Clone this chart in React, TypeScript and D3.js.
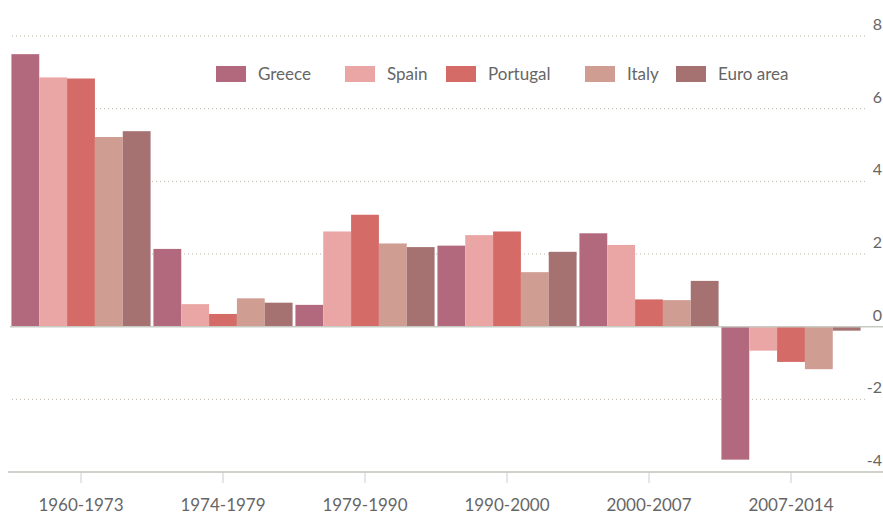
import React from 'react';
import * as d3 from 'd3';

// periods and average growth per country
const periods = ['1960-1973', '1974-1979', '1979-1990', '1990-2000', '2000-2007', '2007-2014'];
const countries = ['Greece', 'Spain', 'Portugal', 'Italy', 'Euro area'];
const greece = [7.5, 2.14, 0.6, 2.23, 2.57, -3.66];
const spain = [6.86, 0.62, 2.62, 2.52, 2.25, -0.66];
const portugal = [6.83, 0.35, 3.08, 2.62, 0.75, -0.97];
const italy = [5.22, 0.78, 2.29, 1.5, 0.73, -1.17];
const euroArea = [5.38, 0.66, 2.19, 2.06, 1.26, -0.11];
const yTicks = [8, 6, 4, 2, 0, -2, -4];

const COLORS = ['#b2697e', '#e9a6a4', '#d46b67', '#d09d92', '#a57171'];

const W = 883;
const H = 514;

export default function App() {
  const series = [greece, spain, portugal, italy, euroArea];

  const x = d3.scaleBand().domain(periods).range([10, 862]).paddingInner(0.02).paddingOuter(0.01);
  const xi = d3.scaleBand().domain(countries).range([0, x.bandwidth()]);
  const y = d3.scaleLinear().domain([-4, 8]).range([472, 36]);

  // legend layout (x of each swatch)
  const legendX = [216, 345, 446, 585, 676];

  return (
    <svg width={W} height={H} style={{ position: 'absolute', left: 0, top: 0, fontFamily: 'Lato, sans-serif' }}>
      <rect width={W} height={H} fill="#fff" />

      {/* grid */}
      {yTicks.filter(t => t !== 0 && t !== -4).map(t => (
        <line key={t} x1={12} x2={868} y1={y(t)} y2={y(t)} stroke="#bdb5aa" strokeWidth={1} strokeDasharray="1,3" />
      ))}

      {/* bars */}
      {series.map((vals, si) => (
        <g key={countries[si]}>
          {vals.map((v, pi) => (
            <rect key={pi}
              x={(x(periods[pi]) || 0) + (xi(countries[si]) || 0)}
              width={xi.bandwidth()}
              y={Math.min(y(v), y(0))}
              height={Math.abs(y(v) - y(0))}
              fill={COLORS[si]} />
          ))}
        </g>
      ))}

      {/* zero line and bottom axis */}
      <line x1={10} x2={W} y1={y(0)} y2={y(0)} stroke="#c8cbc4" strokeWidth={1.5} />
      <line x1={8} x2={W} y1={y(-4)} y2={y(-4)} stroke="#cfd2cb" strokeWidth={2} />

      {/* y tick labels */}
      {yTicks.map(t => (
        <text key={t} x={882} y={y(t) - 6} textAnchor="end" fontSize={16} fill="#666">{t}</text>
      ))}

      {/* x ticks */}
      {periods.map(p => {
        const cx = (x(p) || 0) + x.bandwidth() / 2;
        return (
          <g key={p}>
            <line x1={cx} x2={cx} y1={y(-4)} y2={y(-4) + 11} stroke="#ccc" />
            <text x={cx} y={511} textAnchor="middle" fontSize={17} fill="#666">{p}</text>
          </g>
        );
      })}

      {/* legend */}
      {countries.map((c, i) => (
        <g key={c} transform={`translate(${legendX[i]},66)`}>
          <rect width={30} height={16} fill={COLORS[i]} />
          <text x={42} y={14} fontSize={17} fill="#666">{c}</text>
        </g>
      ))}
    </svg>
  );
}
